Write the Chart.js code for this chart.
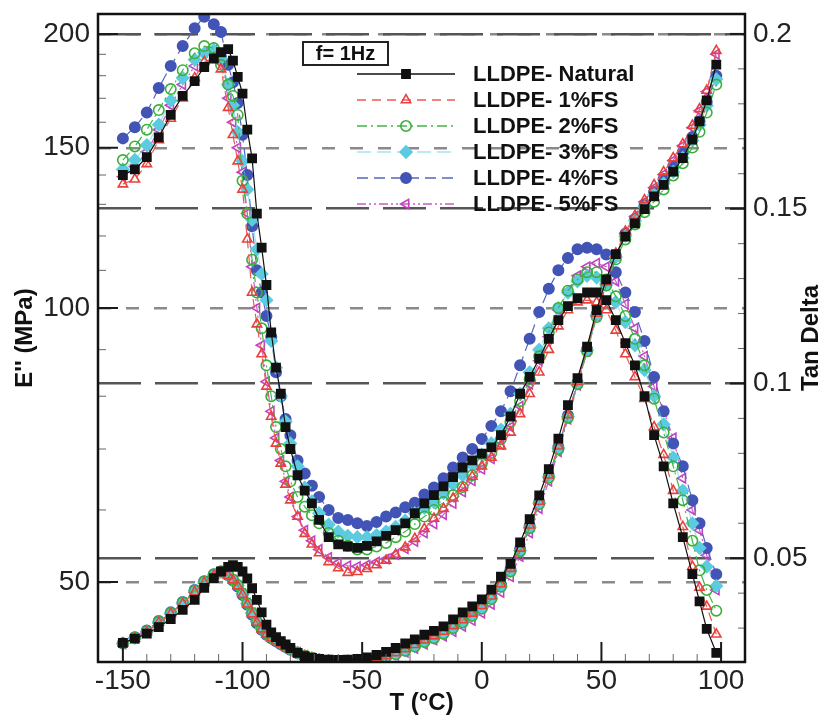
<!DOCTYPE html>
<html>
<head>
<meta charset="utf-8">
<script src="https://cdn.jsdelivr.net/npm/chart.js@4.4.1/dist/chart.umd.min.js"></script>
<style>
  body { margin: 0; background: #fff; }
  canvas { display: block; }
</style>
</head>
<body>
<canvas id="dmaChart" width="824" height="716"></canvas>
<script>
// temperatures (°C), shared by every curve
const TEMP = [
  -150, -145, -140, -135, -130, -125, -120, -116, -112, -109,
  -106, -104, -102, -100, -98, -96, -94, -92, -90, -88,
  -86, -84, -82, -80, -77, -74, -71, -68, -64, -60,
  -56, -52, -48, -44, -40, -36, -32, -28, -24, -20,
  -16, -12, -8, -4, 0, 4, 8, 12, 16, 20,
  24, 28, 32, 36, 40, 44, 48, 52, 56, 60,
  64, 68, 72, 76, 80, 84, 88, 91, 94, 98
];

// loss modulus E'' (MPa), left log axis
const E_NATURAL = [
  140, 142, 146.5, 154, 163, 171, 177.5, 184, 188, 191,
  192.5, 187, 179.5, 172, 157, 146, 127, 116.5, 106, 94,
  86, 80.5, 74, 70, 65.5, 63, 61, 58.5, 56, 55,
  54.7, 54.5, 54.8, 55.4, 56.2, 57, 58, 59.5, 61, 62.3,
  63.7, 65.2, 66.8, 68, 69.2, 70.3, 72.5, 76, 80.5, 84,
  88, 92.5, 97, 100.5, 102.5, 104, 104, 102, 97, 91.5,
  86.5, 80, 72.5, 67, 61, 56, 51, 47.6, 44.4, 41.8
];
const E_1FS = [
  136.8, 138.5, 144, 153, 161.5, 170, 179, 186.5, 188, 183,
  166, 155, 145, 135, 119, 104, 96, 89, 82, 76,
  71, 67.5, 64, 61.5, 59, 56.5, 55, 53.8, 52.6, 51.8,
  51.2, 51.3, 51.7, 52.2, 52.8, 53.6, 54.6, 55.8, 57.2, 58.7,
  60.2, 61.8, 63.5, 65.3, 67, 68.5, 70.5, 73, 76.5, 80.5,
  85, 90, 95.5, 99.5, 101.5, 102, 101.5, 99.5, 94.5, 89,
  84, 79.5, 74, 69, 63, 57.5, 52, 49.3, 47, 43.8
];
const E_2FS = [
  145.4, 150.5, 157, 165, 174, 182.5, 190.5, 194, 193, 185,
  176, 171, 163, 138, 127, 113, 104, 95, 86.5, 80,
  74, 70, 67, 64.5, 62, 60.5, 59.2, 58, 56.6, 55.5,
  54.8, 54.3, 54.3, 54.7, 55.2, 56, 56.8, 57.9, 59, 60,
  61.2, 62.3, 63.6, 65.5, 67.5, 69.3, 71.8, 75, 79, 83.5,
  88.5, 94, 100, 104.5, 107.5, 109.5, 109.5, 107.5, 103, 98,
  92.5, 86.5, 79.5, 73, 67, 61.5, 55.5, 51.5, 49, 46.5
];
const E_3FS = [
  142, 145.5, 151, 159, 169, 179, 187.5, 190.5, 192, 188,
  176, 167, 156, 145, 135, 125, 116, 109, 102, 92,
  86, 80, 75, 71, 67, 63.5, 61.3, 59.5, 57.8, 56.8,
  56.2, 56, 56, 56.3, 56.8, 57.5, 58.4, 59.5, 60.3, 61.2,
  62.6, 64, 65.5, 67.2, 69, 71, 73.5, 76.5, 80.5, 85,
  90, 95, 100, 104, 107, 108.5, 108, 106, 101.5, 96.5,
  91, 85.5, 80, 74.5, 68.5, 63, 58, 54.5, 52, 49.5
];
const E_4FS = [
  153.6, 158, 164, 174.5, 184.5, 194, 203, 209, 205, 201,
  185, 177, 168, 155, 140, 123, 110, 104, 98, 93,
  85, 80, 75.5, 72.5, 68, 65.8, 63.8, 62, 60, 58.8,
  58.5, 58, 57.6, 58.2, 59, 59.6, 60.4, 61.1, 62.4, 63.5,
  65, 66.8, 68.5, 70, 71.8, 74.2, 77, 81, 86.5, 92.5,
  99, 105, 110, 113.5, 116, 116.5, 116, 114.5, 109.5, 104,
  99, 92, 84, 77, 71, 67, 61.5, 58, 54.5, 51
];
const E_5FS = [
  139.4, 143, 148.5, 157, 167, 176, 184.5, 191, 192, 186,
  170, 160, 150, 141, 127, 111, 100, 91, 83, 77,
  72, 68, 64.5, 62, 59, 57, 55.5, 54.3, 53.2, 52.5,
  52.1, 52, 52.2, 52.6, 53, 53.6, 54.4, 55.4, 56.6, 57.9,
  59.3, 61, 62.8, 64.6, 66.5, 68.3, 70.8, 74, 78, 82.5,
  87.5, 93, 99.5, 104.5, 108.5, 111, 112, 111, 107, 101,
  95, 88.5, 82, 77, 72, 65, 60, 57, 53.5, 49
];

// tan delta, right linear axis
const TAN_NATURAL = [
  0.0258, 0.027, 0.0284, 0.0303, 0.0326, 0.0352, 0.0381, 0.0415, 0.0443, 0.0462,
  0.0475, 0.048, 0.0475, 0.0462, 0.0442, 0.0414, 0.0381, 0.0345, 0.031, 0.0288,
  0.0274, 0.0263, 0.0253, 0.0243, 0.0229, 0.022, 0.0215, 0.0212, 0.021, 0.0209,
  0.021, 0.0212, 0.0216, 0.0223, 0.0232, 0.0243, 0.0256, 0.0268, 0.0281, 0.0292,
  0.0305, 0.0325, 0.0345, 0.0362, 0.0382, 0.041, 0.0447, 0.0484, 0.0545, 0.0612,
  0.068, 0.0755, 0.0842, 0.0938, 0.1015, 0.1105, 0.121, 0.1298, 0.137, 0.142,
  0.1458, 0.1499, 0.1535, 0.1568, 0.1606, 0.1645, 0.1698, 0.175, 0.181, 0.1912
];
const TAN_1FS = [
  0.0256, 0.027, 0.0289, 0.0316, 0.0341, 0.037, 0.0403, 0.043, 0.045, 0.0458,
  0.045, 0.0437, 0.042, 0.0396, 0.0368, 0.034, 0.0316, 0.0297, 0.0282, 0.0272,
  0.0263, 0.0255, 0.0246, 0.0238, 0.0228, 0.0219, 0.0213, 0.0209, 0.0206, 0.0205,
  0.0205, 0.0207, 0.0209, 0.0214, 0.022, 0.0229, 0.024, 0.0252, 0.0265, 0.0277,
  0.029, 0.0306, 0.0323, 0.0342, 0.0364, 0.0391, 0.0426, 0.047, 0.0528, 0.0594,
  0.0662, 0.0737, 0.082, 0.091, 0.1005, 0.11, 0.12, 0.129, 0.1372, 0.1435,
  0.148, 0.1525, 0.1568, 0.1605, 0.1645, 0.1685, 0.1738, 0.1785, 0.1838, 0.1952
];
const TAN_2FS = [
  0.0257, 0.0273, 0.0291, 0.0318, 0.0343, 0.0373, 0.0407, 0.0433, 0.0453, 0.0462,
  0.0453, 0.0439, 0.0423, 0.0399, 0.0371, 0.0343, 0.0319, 0.0299, 0.0284, 0.0274,
  0.0265, 0.0257, 0.0248, 0.024, 0.023, 0.0221, 0.0215, 0.021, 0.0207, 0.0205,
  0.0205, 0.0206, 0.0208, 0.0212, 0.0217, 0.0225, 0.0235, 0.0247, 0.026, 0.0271,
  0.0284, 0.03, 0.0316, 0.0335, 0.0356, 0.0383, 0.0418, 0.0462, 0.052, 0.0586,
  0.0655, 0.073, 0.0812, 0.0902, 0.0998, 0.1092, 0.119, 0.128, 0.1355, 0.1412,
  0.1455, 0.149, 0.152, 0.1555, 0.1595, 0.163, 0.1675, 0.172, 0.1775, 0.1855
];
const TAN_3FS = [
  0.0256, 0.0272, 0.029, 0.0317, 0.0342, 0.0372, 0.0406, 0.0432, 0.0452, 0.0461,
  0.0452, 0.0438, 0.0422, 0.0398, 0.037, 0.0342, 0.0318, 0.0298, 0.0283, 0.0273,
  0.0264, 0.0256, 0.0247, 0.0239, 0.0229, 0.022, 0.0214, 0.0209, 0.0206, 0.0205,
  0.0205, 0.0206, 0.0208, 0.0212, 0.0218, 0.0226, 0.0236, 0.0248, 0.0261, 0.0272,
  0.0285, 0.0301, 0.0318, 0.0337, 0.0358, 0.0385, 0.042, 0.0464, 0.0522, 0.0588,
  0.0657, 0.0732, 0.0815, 0.0905, 0.1, 0.1095, 0.1195, 0.1285, 0.1362, 0.1422,
  0.1466, 0.1505, 0.154, 0.1572, 0.1605, 0.1645, 0.1695, 0.174, 0.1795, 0.187
];
const TAN_4FS = [
  0.0256, 0.0274, 0.0293, 0.032, 0.0345, 0.0375, 0.0409, 0.0434, 0.0454, 0.0462,
  0.0451, 0.0436, 0.0419, 0.0395, 0.0367, 0.0338, 0.0314, 0.0295, 0.0281, 0.0271,
  0.0262, 0.0254, 0.0246, 0.0238, 0.0228, 0.0219, 0.0213, 0.0209, 0.0206, 0.0205,
  0.0205, 0.0206, 0.0209, 0.0213, 0.022, 0.0228, 0.0238, 0.025, 0.0262, 0.0274,
  0.0287, 0.0303, 0.032, 0.0338, 0.036, 0.0388, 0.0424, 0.0468, 0.0526, 0.0592,
  0.066, 0.0735, 0.0818, 0.0908, 0.1002, 0.1098, 0.1198, 0.1288, 0.1365, 0.1428,
  0.147, 0.151, 0.1548, 0.1585, 0.1622, 0.1662, 0.1705, 0.175, 0.1805, 0.188
];
const TAN_5FS = [
  0.0255, 0.0271, 0.0288, 0.0314, 0.034, 0.0369, 0.0402, 0.0428, 0.0448, 0.0457,
  0.045, 0.0437, 0.0421, 0.0398, 0.0371, 0.0344, 0.032, 0.03, 0.0285, 0.0274,
  0.0265, 0.0257, 0.0249, 0.0241, 0.0231, 0.0222, 0.0215, 0.021, 0.0207, 0.0206,
  0.0206, 0.0207, 0.0209, 0.0212, 0.0216, 0.0222, 0.0231, 0.0242, 0.0254, 0.0266,
  0.0277, 0.029, 0.0305, 0.0322, 0.0343, 0.0368, 0.0402, 0.0447, 0.0505, 0.0572,
  0.0642, 0.072, 0.0805, 0.0898, 0.0995, 0.1092, 0.1192, 0.1285, 0.1365, 0.143,
  0.1478, 0.152, 0.156, 0.1598, 0.1638, 0.168, 0.1732, 0.178, 0.1835, 0.1942
];

const LABELS = ['LLDPE- Natural', 'LLDPE- 1%FS', 'LLDPE- 2%FS', 'LLDPE- 3%FS', 'LLDPE- 4%FS', 'LLDPE- 5%FS'];
const E_VALUES = [E_NATURAL, E_1FS, E_2FS, E_3FS, E_4FS, E_5FS];
const TAN_VALUES = [TAN_NATURAL, TAN_1FS, TAN_2FS, TAN_3FS, TAN_4FS, TAN_5FS];

const X_TICKS = [-150, -100, -50, 0, 50, 100];
const X_MINOR = [-140, -130, -120, -110, -90, -80, -70, -60, -40, -30, -20, -10, 10, 20, 30, 40, 60, 70, 80, 90];
const E_TICKS = [50, 100, 150, 200];
const E_MINOR = [60, 70, 80, 90, 110, 120, 130, 140, 160, 170, 180, 190];
const TAN_TICKS = [0.05, 0.1, 0.15, 0.2];
const TAN_MINOR = [0.03, 0.04, 0.06, 0.07, 0.08, 0.09, 0.11, 0.12, 0.13, 0.14, 0.16, 0.17, 0.18, 0.19];

const FONT = '"Liberation Sans", Arial, Helvetica, sans-serif';

// look of each sample: line colour, dash, marker
const STYLES = [
  { color: '#111111', line: '#111111', dash: [], point: 'rect', radius: 5.8, filled: true, rotation: 0 },
  { color: '#e8413c', line: '#ec5a55', dash: [9, 6], point: 'triangle', radius: 5.4, filled: false, rotation: 0 },
  { color: '#38b03a', line: '#45b547', dash: [10, 4, 2, 4], point: 'circle', radius: 5.2, filled: false, rotation: 0 },
  { color: '#5ccbe0', line: 'rgba(92,203,224,0.55)', dash: [14, 6], point: 'rectRot', radius: 6, filled: true, rotation: 0 },
  { color: '#4254b5', line: '#5565c0', dash: [11, 6], point: 'circle', radius: 5.2, filled: true, rotation: 0 },
  { color: '#c243c0', line: '#c95ac7', dash: [9, 3, 2, 3, 2, 3], point: 'triangle', radius: 5.4, filled: false, rotation: -90 },
];

function makeDataset(i, values, axis) {
  const st = STYLES[i];
  return {
    label: LABELS[i] + (axis === 'yE' ? ' E\'\'' : ' tan'),
    data: TEMP.map((t, k) => ({ x: t, y: values[k] })),
    yAxisID: axis,
    borderColor: st.line,
    borderWidth: 1.2,
    borderDash: st.dash,
    pointStyle: st.point,
    pointRotation: st.rotation,
    pointRadius: st.radius,
    pointBorderColor: st.color,
    pointBackgroundColor: st.filled ? st.color : 'rgba(255,255,255,0)',
    pointBorderWidth: 1.6,
    tension: 0,
    fill: false,
  };
}

const datasets = [];
for (let i = 0; i < LABELS.length; i++) {
  datasets.push(makeDataset(i, E_VALUES[i], 'yE'));
  datasets.push(makeDataset(i, TAN_VALUES[i], 'yT'));
}

// inward tick marks, frame, axis titles and the legend box
const decorations = {
  id: 'decorations',
  afterDraw(chart) {
    const ctx = chart.ctx;
    const a = chart.chartArea;
    const sx = chart.scales.x, se = chart.scales.yE, st = chart.scales.yT;

    ctx.save();
    ctx.strokeStyle = '#1a1a1a';
    ctx.lineWidth = 2;
    const tick = (x1, y1, x2, y2) => { ctx.beginPath(); ctx.moveTo(x1, y1); ctx.lineTo(x2, y2); ctx.stroke(); };
    X_TICKS.forEach(v => { const x = sx.getPixelForValue(v); tick(x, a.bottom, x, a.bottom - 20); });
    E_TICKS.forEach(v => { const y = se.getPixelForValue(v); tick(a.left, y, a.left + 20, y); });
    TAN_TICKS.forEach(v => { const y = st.getPixelForValue(v); tick(a.right, y, a.right - 15, y); });
    ctx.strokeStyle = '#666';
    ctx.lineWidth = 1;
    X_MINOR.forEach(v => { const x = sx.getPixelForValue(v); tick(x, a.bottom, x, a.bottom - 8); });
    E_MINOR.forEach(v => { const y = se.getPixelForValue(v); tick(a.left, y, a.left + 8, y); });
    TAN_MINOR.forEach(v => { const y = st.getPixelForValue(v); tick(a.right, y, a.right - 7, y); });

    // frame
    ctx.strokeStyle = '#111';
    ctx.lineWidth = 2.5;
    ctx.strokeRect(a.left, a.top, a.right - a.left, a.bottom - a.top);

    // axis titles
    ctx.fillStyle = '#111';
    ctx.font = 'bold 24px ' + FONT;
    ctx.textAlign = 'center';
    ctx.textBaseline = 'middle';
    ctx.fillText('T (°C)', (a.left + a.right) / 2, 703);
    const mid = (a.top + a.bottom) / 2;
    ctx.save();
    ctx.translate(25, mid);
    ctx.rotate(-Math.PI / 2);
    ctx.fillText('E\'\' (MPa)', 0, 0);
    ctx.restore();
    ctx.save();
    ctx.translate(811, mid);
    ctx.rotate(-Math.PI / 2);
    ctx.fillText('Tan Delta', 0, 0);
    ctx.restore();

    // "f= 1Hz" box
    ctx.lineWidth = 2;
    ctx.strokeStyle = '#222';
    ctx.strokeRect(303, 42, 85, 23);
    ctx.font = 'bold 20px ' + FONT;
    ctx.fillText('f= 1Hz', 345.5, 54);

    // legend
    ctx.textAlign = 'left';
    ctx.font = 'bold 22px ' + FONT;
    LABELS.forEach((label, i) => {
      const s = STYLES[i];
      const y = 74 + i * 26;
      ctx.save();
      ctx.strokeStyle = s.line;
      ctx.lineWidth = 1.4;
      ctx.setLineDash(s.dash);
      ctx.beginPath();
      ctx.moveTo(357, y);
      ctx.lineTo(455, y);
      ctx.stroke();
      ctx.setLineDash([]);
      ctx.strokeStyle = s.color;
      ctx.fillStyle = s.filled ? s.color : 'rgba(255,255,255,0)';
      ctx.lineWidth = 1.6;
      Chart.helpers.drawPoint(ctx, { pointStyle: s.point, rotation: s.rotation, radius: s.radius, borderWidth: 1.6 }, 406, y);
      ctx.restore();
      ctx.fillStyle = '#111';
      ctx.fillText(label, 473, y + 1);
    });
    ctx.restore();
  },
};

Chart.defaults.font.family = FONT;

new Chart(document.getElementById('dmaChart'), {
  type: 'line',
  data: { datasets: datasets },
  options: {
    responsive: false,
    animation: false,
    devicePixelRatio: 1,
    layout: { padding: { top: 14, left: 0, right: 0, bottom: 0 } },
    plugins: { legend: { display: false }, tooltip: { enabled: false } },
    scales: {
      x: {
        type: 'linear',
        min: -160.4,
        max: 110,
        afterBuildTicks: s => { s.ticks = X_TICKS.map(v => ({ value: v })); },
        afterFit: s => { s.height = 54; s.paddingLeft = 0; s.paddingRight = 0; },
        grid: { display: false, drawTicks: false },
        border: { display: false },
        ticks: { font: { size: 28 }, color: '#222', padding: 2, maxRotation: 0, autoSkip: false, callback: v => String(v) },
      },
      yE: {
        type: 'logarithmic',
        position: 'left',
        min: 40.84,
        max: 210.4,
        afterBuildTicks: s => { s.ticks = E_TICKS.map(v => ({ value: v })); },
        afterFit: s => { s.width = 98; s.paddingTop = 0; s.paddingBottom = 0; },
        grid: { color: '#8a8a8a', lineWidth: 2.5, drawTicks: false },
        border: { display: false, dash: [13, 15] },
        ticks: { font: { size: 28 }, color: '#222', padding: 8, autoSkip: false, callback: v => String(v) },
      },
      yT: {
        type: 'linear',
        position: 'right',
        min: 0.0203,
        max: 0.2057,
        afterBuildTicks: s => { s.ticks = TAN_TICKS.map(v => ({ value: v })); },
        afterFit: s => { s.width = 79; s.paddingTop = 0; s.paddingBottom = 0; },
        grid: { color: '#555', lineWidth: 2.5, drawTicks: false },
        border: { display: false, dash: [43, 14] },
        ticks: { font: { size: 28 }, color: '#222', padding: 8, autoSkip: false, callback: v => String(v) },
      },
    },
  },
  plugins: [decorations],
});
</script>
</body>
</html>
